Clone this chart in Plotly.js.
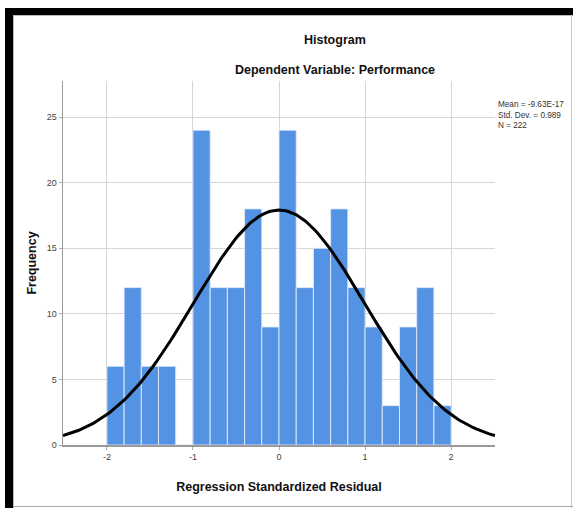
<!DOCTYPE html>
<html>
<head>
<meta charset="utf-8">
<script src="https://cdn.plot.ly/plotly-3.0.1.min.js"></script>
<style>
  html, body { margin: 0; padding: 0; background: #fff; }
  #wrap { position: relative; width: 573px; height: 508px; overflow: hidden; }
  #chart { position: absolute; left: 0; top: 0; width: 573px; height: 508px; }
  .b { position: absolute; pointer-events: none; }
</style>
</head>
<body>
<div id="wrap">
  <div id="chart"></div>
  <div class="b" style="left:5px;top:8px;width:568px;height:7px;background:#000;"></div>
  <div class="b" style="left:5px;top:8px;width:8px;height:500px;background:#000;"></div>
  <div class="b" style="left:13px;top:15px;width:560px;height:1px;background:#bbb;"></div>
  <div class="b" style="left:13px;top:15px;width:1px;height:493px;background:#bbb;"></div>
  <div class="b" style="left:571px;top:15px;width:1px;height:493px;background:#c8c8c8;"></div>
  <div class="b" style="left:13px;top:506px;width:560px;height:1px;background:#aaa;"></div>
</div>
<script>
// Histogram bins (left edges) and counts
const binStarts = [-2.0, -1.8, -1.6, -1.4, -1.2, -1.0, -0.8, -0.6, -0.4, -0.2,
                   0.0, 0.2, 0.4, 0.6, 0.8, 1.0, 1.2, 1.4, 1.6, 1.8];
const counts    = [6, 12, 6, 6, 0, 24, 12, 12, 18, 9,
                   24, 12, 15, 18, 12, 9, 3, 9, 12, 3];
const binWidth = 0.2;
// Summary statistics shown on the chart
const meanVal = -9.63e-17;
const stdDev = 0.989;
const nObs = 222;
const statsLines = ["Mean = -9.63E-17", "Std. Dev. = 0.989", "N = 222"];
const xTicks = [-2, -1, 0, 1, 2];
const yTicks = [0, 5, 10, 15, 20, 25];

const centers = binStarts.map(s => s + binWidth / 2);

// Fitted normal curve (from mean, std dev, N, bin width)
const curveX = [], curveY = [];
const xmin = -2.51, xmax = 2.51;
for (let i = 0; i <= 200; i++) {
  const x = xmin + (xmax - xmin) * i / 200;
  const z = (x - meanVal) / stdDev;
  curveX.push(x);
  curveY.push(nObs * binWidth * Math.exp(-0.5 * z * z) / (stdDev * Math.sqrt(2 * Math.PI)));
}

const bars = {
  type: 'bar', x: centers, y: counts, width: binWidth,
  marker: { color: '#5493E3', line: { color: 'rgba(225,235,250,0.9)', width: 1 } },
  hoverinfo: 'x+y', showlegend: false
};
const curve = {
  type: 'scatter', mode: 'lines', x: curveX, y: curveY,
  line: { color: '#000', width: 3 }, showlegend: false, hoverinfo: 'skip'
};

const fontFam = '"Liberation Sans", Arial, sans-serif';
const narrowFam = '"Liberation Sans Narrow", "Liberation Sans", Arial, sans-serif';
const plotL = 63, plotR = 495, plotT = 81;
const titleX = (335 - plotL) / (plotR - plotL);

const annotations = [
  { text: '<b>Histogram</b>', xref: 'paper', yref: 'paper', x: titleX, y: 1.0,
    xanchor: 'center', yanchor: 'middle', showarrow: false,
    yshift: plotT - 40, font: { size: 12.5, color: '#111', family: fontFam } },
  { text: '<b>Dependent Variable: Performance</b>', xref: 'paper', yref: 'paper', x: titleX, y: 1.0,
    xanchor: 'center', yanchor: 'middle', showarrow: false,
    yshift: plotT - 70, font: { size: 12.5, color: '#111', family: fontFam } },
  { text: statsLines.join('<br>'), xref: 'paper', yref: 'paper', x: 1.0, y: 1.0,
    xanchor: 'left', yanchor: 'top', align: 'left', showarrow: false, borderpad: 0,
    xshift: 2, yshift: plotT - 99,
    font: { size: 8.2, color: '#333', family: narrowFam } }
];

const layout = {
  width: 573, height: 508,
  margin: { l: 63, r: 78, t: 81, b: 63 },
  paper_bgcolor: '#fff', plot_bgcolor: '#fff',
  font: { family: fontFam, color: '#222' },
  bargap: 0,
  xaxis: {
    range: [xmin, xmax], tickvals: xTicks, ticktext: xTicks.map(String),
    showgrid: true, gridcolor: '#d6d6d6', gridwidth: 1,
    zeroline: false, showline: true, linecolor: '#9a9a9a', linewidth: 1.5,
    ticks: 'outside', ticklen: 3, tickcolor: '#aaa',
    tickfont: { size: 9, color: '#444', family: fontFam },
    title: { text: 'Regression Standardized Residual', font: { size: 12.5, color: '#111', family: fontFam, weight: 'bold' }, standoff: 21 }
  },
  yaxis: {
    range: [0, 27.75], tickvals: yTicks, ticktext: yTicks.map(String),
    showgrid: true, gridcolor: '#d6d6d6', gridwidth: 1,
    zeroline: false, showline: true, linecolor: '#9a9a9a', linewidth: 1.5,
    ticks: 'outside', ticklen: 3, tickcolor: '#aaa',
    tickfont: { size: 9, color: '#444', family: fontFam },
    title: { text: 'Frequency', font: { size: 12.5, color: '#111', family: fontFam, weight: 'bold' }, standoff: 7 }
  },
  annotations: annotations
};

Plotly.newPlot('chart', [bars, curve], layout, { displayModeBar: false, staticPlot: true });
</script>
</body>
</html>
